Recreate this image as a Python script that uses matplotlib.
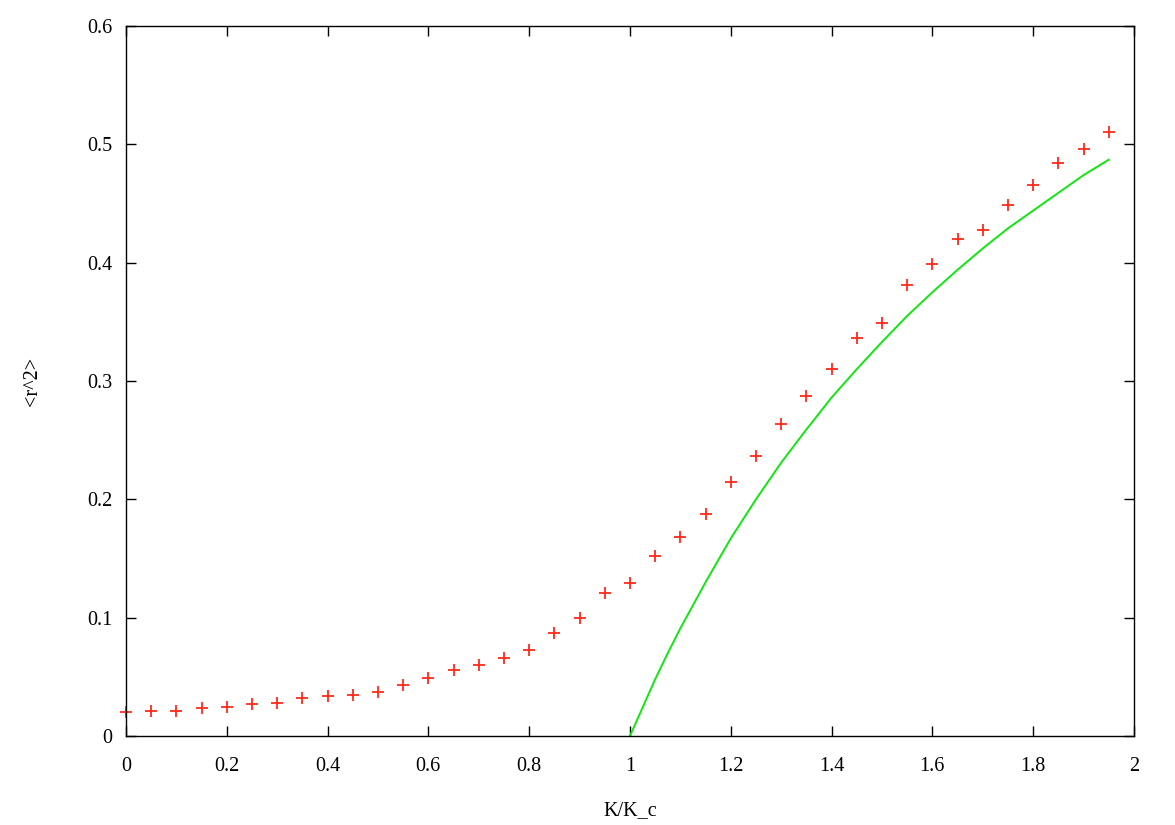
import numpy as np
import matplotlib
matplotlib.use('Agg')
import matplotlib.pyplot as plt

k_ratio = [0.0, 0.05, 0.1, 0.15, 0.2, 0.25, 0.3, 0.35, 0.4, 0.45,
           0.5, 0.55, 0.6, 0.65, 0.7, 0.75, 0.8, 0.85, 0.9, 0.95,
           1.0, 1.05, 1.1, 1.15, 1.2, 1.25, 1.3, 1.35, 1.4, 1.45,
           1.5, 1.55, 1.6, 1.65, 1.7, 1.75, 1.8, 1.85, 1.9, 1.95]
r2_measured = [0.020, 0.021, 0.021, 0.024, 0.0245, 0.027, 0.028, 0.032,
               0.034, 0.035, 0.0375, 0.043, 0.049, 0.056, 0.060, 0.066,
               0.073, 0.087, 0.0995, 0.121, 0.129, 0.152, 0.168, 0.188,
               0.215, 0.237, 0.264, 0.287, 0.310, 0.336, 0.349, 0.381,
               0.399, 0.420, 0.428, 0.449, 0.466, 0.484, 0.496, 0.510]

# theory curve
k_theory = [1.0, 1.025, 1.05, 1.075, 1.1, 1.15, 1.2, 1.25, 1.3, 1.35,
            1.4, 1.45, 1.5, 1.55, 1.6, 1.65, 1.7, 1.75, 1.8, 1.85,
            1.9, 1.95]
r2_theory = [0.0, 0.024, 0.048, 0.070, 0.091, 0.130, 0.167, 0.200,
             0.231, 0.259, 0.286, 0.310, 0.333, 0.355, 0.375, 0.394,
             0.412, 0.429, 0.444, 0.459, 0.474, 0.487]

x_ticks = [0, 0.2, 0.4, 0.6, 0.8, 1, 1.2, 1.4, 1.6, 1.8, 2]
x_labels = ['0', '0.2', '0.4', '0.6', '0.8', '1', '1.2', '1.4', '1.6',
            '1.8', '2']
y_ticks = [0, 0.1, 0.2, 0.3, 0.4, 0.5, 0.6]
y_labels = ['0', '0.1', '0.2', '0.3', '0.4', '0.5', '0.6']

plt.rcParams['font.family'] = ['Liberation Serif', 'DejaVu Serif']
plt.rcParams['font.size'] = 14.5

fig = plt.figure(figsize=(11.75, 8.25), dpi=100)
ax = fig.add_axes([0.1072, 0.1079, 0.8579, 0.8606])

ax.plot(k_ratio, r2_measured, linestyle='none', marker='+',
        markersize=8.5, markeredgewidth=1.3, color='#ff2a1a', clip_on=False)
ax.plot(k_theory, r2_theory, color='#11e611', linewidth=1.4)

ax.set_xlim(0, 2)
ax.set_ylim(0, 0.6)
ax.set_xticks(x_ticks)
ax.set_xticklabels(x_labels)
ax.set_yticks(y_ticks)
ax.set_yticklabels(y_labels)
ax.tick_params(direction='in', length=7, width=1.0, top=True, right=True)
ax.tick_params(axis='x', pad=15)
ax.tick_params(axis='y', pad=10)
for spine in ax.spines.values():
    spine.set_linewidth(1.0)

ax.set_xlabel('K/K_c', labelpad=18)
ax.set_ylabel('<r^2>', labelpad=32)

fig.savefig('out.png', dpi=100)
